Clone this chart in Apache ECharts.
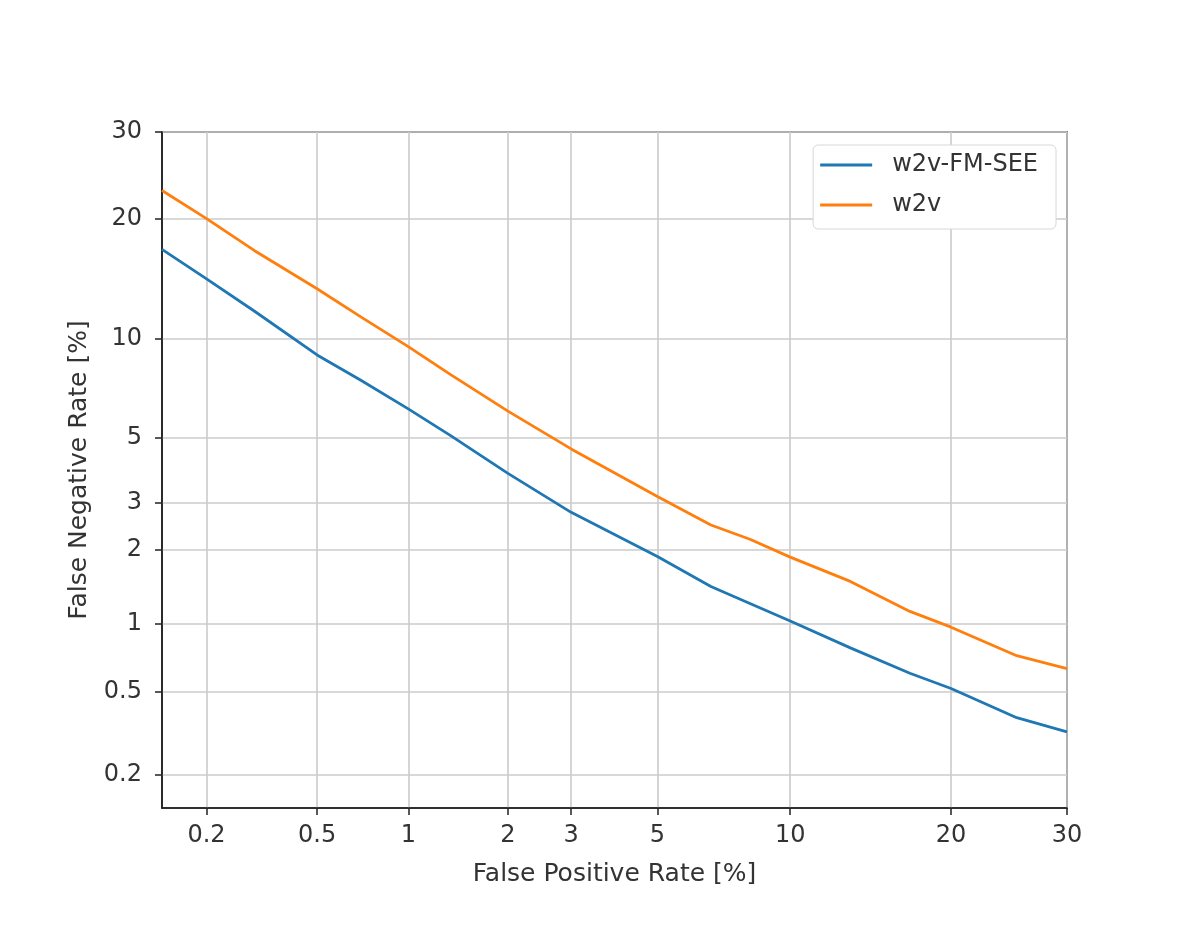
<!DOCTYPE html>
<html>
<head>
<meta charset="utf-8">
<script src="https://cdn.jsdelivr.net/npm/echarts@6/dist/echarts.min.js"></script>
<style>html,body{margin:0;padding:0;background:#fff;}#chart{width:1200px;height:930px;}</style>
</head>
<body>
<div id="chart"></div>
<script>
// Tick labels (percent) used on both axes
const tickValues = [0.2, 0.5, 1, 2, 3, 5, 10, 20, 30];
// False positive rate [%] sample positions
const fpr = [0.135, 0.2, 0.3, 0.5, 0.7, 1, 1.35, 2, 3, 5, 6.7, 8.2, 10, 13.2, 17, 20, 25.4, 30];
// False negative rate [%] per series
const fnrW2vFmSee = [17.0, 14.4, 11.9, 9.0, 7.6, 6.2, 5.1, 3.8, 2.76, 1.88, 1.43, 1.22, 1.03, 0.79, 0.61, 0.52, 0.38, 0.325];
const fnrW2v = [23.0, 20.0, 16.9, 13.6, 11.5, 9.5, 7.9, 6.1, 4.6, 3.15, 2.48, 2.19, 1.87, 1.50, 1.13, 0.97, 0.73, 0.64];
const seriesNames = ['w2v-FM-SEE', 'w2v'];

// Normal deviate (probit) scale transform
function ppf(p){
  const a=[-3.969683028665376e+01,2.209460984245205e+02,-2.759285104469687e+02,1.383577518672690e+02,-3.066479806614716e+01,2.506628277459239e+00];
  const b=[-5.447609879822406e+01,1.615858368580409e+02,-1.556989798598866e+02,6.680131188771972e+01,-1.328068155288572e+01];
  const c=[-7.784894002430293e-03,-3.223964580411365e-01,-2.400758277161838e+00,-2.549732539343734e+00,4.374664141464968e+00,2.938163982698783e+00];
  const d=[7.784695709041462e-03,3.224671290700398e-01,2.445134137142996e+00,3.754408661907416e+00];
  const pl=0.02425, ph=1-pl; let q,r;
  if(p<pl){q=Math.sqrt(-2*Math.log(p));return (((((c[0]*q+c[1])*q+c[2])*q+c[3])*q+c[4])*q+c[5])/((((d[0]*q+d[1])*q+d[2])*q+d[3])*q+1);}
  if(p<=ph){q=p-0.5;r=q*q;return (((((a[0]*r+a[1])*r+a[2])*r+a[3])*r+a[4])*r+a[5])*q/(((((b[0]*r+b[1])*r+b[2])*r+b[3])*r+b[4])*r+1);}
  q=Math.sqrt(-2*Math.log(1-p));return -(((((c[0]*q+c[1])*q+c[2])*q+c[3])*q+c[4])*q+c[5])/((((d[0]*q+d[1])*q+d[2])*q+d[3])*q+1);
}
const z = v => ppf(v/100);
const tickZ = tickValues.map(z);
function labelFor(val){
  let best = 0, bd = Infinity;
  tickZ.forEach((t,i)=>{const dd=Math.abs(t-val); if(dd<bd){bd=dd;best=i;}});
  return bd < 1e-6 ? String(tickValues[best]) : '';
}
const axisMin = -3.0, axisMax = z(30);
const font = 'DejaVu Sans';

function makeAxis(isX){
  return {
    type: 'value',
    min: axisMin, max: axisMax,
    name: isX ? 'False Positive Rate [%]' : 'False Negative Rate [%]',
    nameLocation: 'middle',
    nameGap: isX ? 54 : 70,
    nameTextStyle: {fontFamily: font, fontSize: 25, color: '#333'},
    axisLine: {show: true, onZero: false, lineStyle: {color: '#222', width: 1.6}},
    axisTick: {show: true, customValues: tickZ, length: 7, lineStyle: {color: '#222', width: 1.5}},
    axisLabel: {customValues: tickZ, formatter: labelFor, fontFamily: font, fontSize: 24, color: '#333', margin: isX ? 16 : 20},
    splitLine: {show: true, lineStyle: {color: '#cbcbcb', width: 1.6}}
  };
}

const chart = echarts.init(document.getElementById('chart'));
chart.setOption({
  backgroundColor: '#fff',
  animation: false,
  grid: {left: 162, right: 133, top: 132, bottom: 122, show: true, borderColor: '#222', borderWidth: 1.6, backgroundColor: 'transparent'},
  legend: {
    orient: 'vertical', right: 144, top: 145,
    backgroundColor: '#fff', borderColor: '#d8d8d8', borderWidth: 1, borderRadius: 5,
    padding: [8, 18, 12, 7], itemGap: 16, itemWidth: 52, itemHeight: 3, icon: 'rect',
    textStyle: {fontFamily: font, fontSize: 24, color: '#333', padding: [0, 0, 0, 15]},
    data: seriesNames
  },
  xAxis: makeAxis(true),
  yAxis: makeAxis(false),
  series: [
    {name: seriesNames[0], type: 'line', showSymbol: false, color: '#1f77b4', lineStyle: {width: 2.8},
     data: fpr.map((x,i)=>[z(x), z(fnrW2vFmSee[i])])},
    {name: seriesNames[1], type: 'line', showSymbol: false, color: '#ff7f0e', lineStyle: {width: 2.8},
     data: fpr.map((x,i)=>[z(x), z(fnrW2v[i])])}
  ]
});
</script>
</body>
</html>
